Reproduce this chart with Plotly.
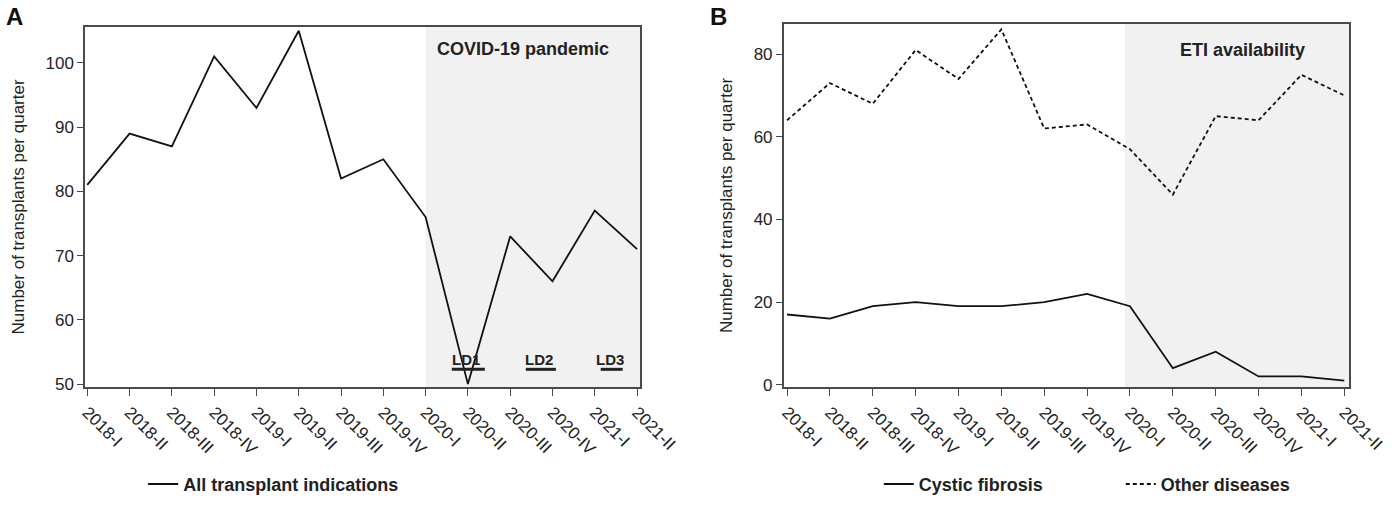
import plotly.graph_objects as go

quarters = ["2018-I", "2018-II", "2018-III", "2018-IV", "2019-I", "2019-II", "2019-III",
            "2019-IV", "2020-I", "2020-II", "2020-III", "2020-IV", "2021-I", "2021-II"]
all_indications = [81, 89, 87, 101, 93, 105, 82, 85, 76, 50, 73, 66, 77, 71]
cystic_fibrosis = [17, 16, 19, 20, 19, 19, 20, 22, 19, 4, 8, 2, 2, 1]
other_diseases = [64, 73, 68, 81, 74, 86, 62, 63, 57, 46, 65, 64, 75, 70]

# lockdown periods (in quarter-index units) for panel A
ld_labels = ["LD1", "LD2", "LD3"]
ld_start = [8.62, 10.37, 12.14]
ld_end = [9.40, 11.08, 12.66]

FONT = "Liberation Sans, Arial, sans-serif"
INK = "#222222"
FRAME = "#4a4a4a"

fig = go.Figure()

fig.add_trace(go.Scatter(x=quarters, y=all_indications, mode="lines",
                         line=dict(color="#111111", width=1.8),
                         name="All transplant indications",
                         xaxis="x", yaxis="y", legend="legend"))
fig.add_trace(go.Scatter(x=quarters, y=cystic_fibrosis, mode="lines",
                         line=dict(color="#111111", width=1.8),
                         name="Cystic fibrosis",
                         xaxis="x2", yaxis="y2", legend="legend2"))
fig.add_trace(go.Scatter(x=quarters, y=other_diseases, mode="lines",
                         line=dict(color="#111111", width=1.8, dash="4px,3px"),
                         name="Other diseases",
                         xaxis="x2", yaxis="y2", legend="legend2"))

shapes = [
    dict(type="rect", xref="x", yref="y domain", x0=8.0, x1=13.07, y0=0, y1=1,
         fillcolor="#f1f1f1", line=dict(width=0), layer="below"),
    dict(type="rect", xref="x2", yref="y2 domain", x0=7.88, x1=13.11, y0=0, y1=1,
         fillcolor="#f1f1f1", line=dict(width=0), layer="below"),
]
annotations = [
    dict(text="<b>COVID-19 pandemic</b>", x=10.31, y=102.2, xref="x", yref="y",
         showarrow=False, font=dict(family=FONT, size=18, color=INK)),
    dict(text="<b>ETI availability</b>", x=10.63, y=81.0, xref="x2", yref="y2",
         showarrow=False, font=dict(family=FONT, size=18, color=INK)),
    dict(text="<b>A</b>", x=-0.0554, y=1.0217, xref="paper", yref="paper",
         xanchor="center", yanchor="middle", showarrow=False,
         font=dict(family=FONT, size=24, color="#111111")),
    dict(text="<b>B</b>", x=0.5008, y=1.0217, xref="paper", yref="paper",
         xanchor="center", yanchor="middle", showarrow=False,
         font=dict(family=FONT, size=24, color="#111111")),
]
for lab, s, e in zip(ld_labels, ld_start, ld_end):
    shapes.append(dict(type="line", xref="x", yref="y", x0=s, x1=e, y0=52.3, y1=52.3,
                       line=dict(color="#222222", width=3)))
    annotations.append(dict(text="<b>" + lab + "</b>", x=(s + e) / 2 - 0.05, y=53.9,
                            xref="x", yref="y", showarrow=False,
                            font=dict(family=FONT, size=15, color=INK)))

xaxis_common = dict(type="category", tickangle=45, ticks="outside", ticklen=7,
                    tickcolor=FRAME, tickwidth=1.3, showline=True, linecolor=FRAME,
                    linewidth=1.5, mirror=True, showgrid=False, zeroline=False,
                    automargin=False,
                    tickfont=dict(family=FONT, size=17, color=INK))
yaxis_common = dict(ticks="outside", ticklen=6, tickcolor=FRAME, tickwidth=1.3,
                    showline=True, linecolor=FRAME, linewidth=1.5, mirror=True,
                    showgrid=False, zeroline=False, automargin=False,
                    tickfont=dict(family=FONT, size=17, color=INK),
                    title=dict(text="Number of transplants per quarter",
                               font=dict(family=FONT, size=17, color=INK), standoff=17))

fig.update_layout(
    width=1397, height=515,
    margin=dict(l=85, r=48, t=24, b=122),
    paper_bgcolor="white", plot_bgcolor="white",
    font=dict(family=FONT, color=INK),
    xaxis=dict(domain=[0, 0.4391], range=[-0.054, 13.07], anchor="y", **xaxis_common),
    yaxis=dict(domain=[0, 0.992], range=[49.55, 105.6], anchor="x",
               tickvals=[50, 60, 70, 80, 90, 100], **yaxis_common),
    xaxis2=dict(domain=[0.5528, 1.0], range=[-0.077, 13.11], anchor="y2", **xaxis_common),
    yaxis2=dict(domain=[0, 1.0], range=[-0.55, 87.3], anchor="x2",
                tickvals=[0, 20, 40, 60, 80], **yaxis_common),
    shapes=shapes,
    annotations=annotations,
    legend=dict(orientation="h", x=0.046, y=-0.268, xanchor="left", yanchor="middle",
                font=dict(family=FONT, size=18, color=INK, weight="bold"),
                bgcolor="rgba(0,0,0,0)"),
    legend2=dict(orientation="h", x=0.628, y=-0.268, xanchor="left", yanchor="middle",
                 entrywidth=197, entrywidthmode="pixels",
                 font=dict(family=FONT, size=18, color=INK, weight="bold"),
                 bgcolor="rgba(0,0,0,0)"),
    showlegend=True,
)

fig.write_html("out.html", config={"displayModeBar": False},
               post_script="document.body.style.margin='0';")
